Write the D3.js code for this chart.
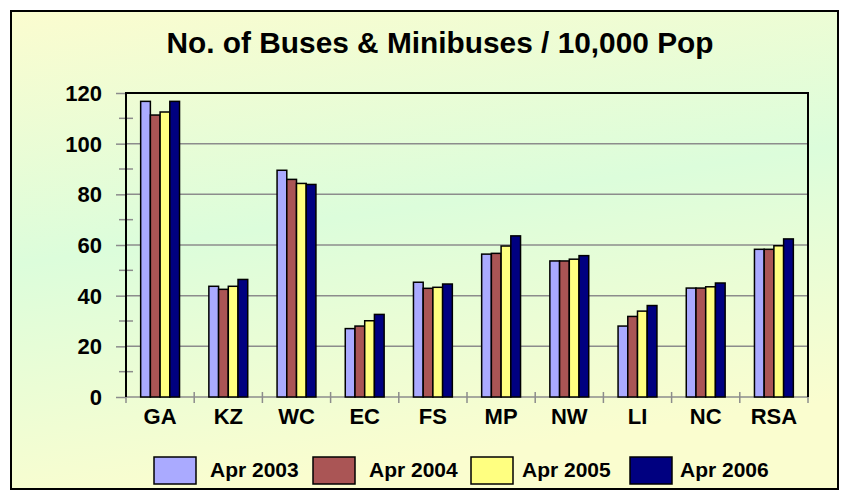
<!DOCTYPE html>
<html>
<head>
<meta charset="utf-8">
<script src="https://cdn.jsdelivr.net/npm/d3@7"></script>
<style>
  body { margin: 0; background: #fff; }
  text { font-family: Arial, "Liberation Sans", sans-serif; font-weight: bold; fill: #000; }
</style>
</head>
<body>
<div class="chart-box"></div>
<script>
// data
let regions = ["GA", "KZ", "WC", "EC", "FS", "MP", "NW", "LI", "NC", "RSA"];
let seriesNames = ["Apr 2003", "Apr 2004", "Apr 2005", "Apr 2006"];
let apr2003 = [116.7, 43.7, 89.5, 27.0, 45.3, 56.4, 53.7, 28.0, 43.0, 58.3];
let apr2004 = [111.3, 42.5, 85.9, 28.0, 42.9, 56.7, 53.7, 31.8, 43.0, 58.3];
let apr2005 = [112.5, 43.7, 84.3, 30.1, 43.3, 59.6, 54.4, 33.9, 43.5, 59.7];
let apr2006 = [116.7, 46.4, 83.9, 32.6, 44.6, 63.6, 55.8, 36.1, 45.0, 62.4];
let yTicks = [0, 20, 40, 60, 80, 100, 120];
let colors = ["#aaaaff", "#aa5555", "#ffff80", "#000080"];

let width = 849, height = 498;
let plotLeft = 126, plotRight = 808, plotTop = 93, plotBottom = 397;

let svg = d3.select(".chart-box")
  .append("svg")
  .attr("width", width)
  .attr("height", height);

// background gradient + frame
let defs = svg.append("defs");
let grad = defs.append("linearGradient")
  .attr("id", "bg")
  .attr("x1", 0).attr("y1", 0).attr("x2", 0.25).attr("y2", 1);
grad.append("stop").attr("offset", "0%").attr("stop-color", "#fbfccf");
grad.append("stop").attr("offset", "50%").attr("stop-color", "#dcfddb");
grad.append("stop").attr("offset", "100%").attr("stop-color", "#fafdcf");

svg.append("rect")
  .attr("x", 11).attr("y", 11)
  .attr("width", 827).attr("height", 478)
  .attr("fill", "url(#bg)")
  .attr("stroke", "#000")
  .attr("stroke-width", 2);

// title
svg.append("text")
  .attr("x", 440)
  .attr("y", 53)
  .attr("text-anchor", "middle")
  .attr("textLength", 547)
  .attr("lengthAdjust", "spacingAndGlyphs")
  .style("font-size", "30px")
  .text("No. of Buses & Minibuses / 10,000 Pop");

let x = d3.scaleBand()
  .domain(regions)
  .range([plotLeft, plotRight])
  .paddingInner(0.43)
  .paddingOuter(0.215);

let x1 = d3.scaleBand()
  .domain(seriesNames)
  .range([0, x.bandwidth()]);

let y = d3.scaleLinear()
  .domain([0, 120])
  .range([plotBottom, plotTop]);

// gridlines
svg.append("g")
  .selectAll("line")
  .data(yTicks.filter(function (d) { return d > 0 && d < 120; }))
  .enter()
  .append("line")
  .attr("x1", plotLeft).attr("x2", plotRight)
  .attr("y1", function (d) { return y(d); })
  .attr("y2", function (d) { return y(d); })
  .attr("stroke", "#8c8c8c")
  .attr("stroke-width", 1.5);

// y axis ticks (major + minor)
let yAxis = d3.axisLeft(y).tickValues(yTicks).tickSize(10).tickFormat("");
svg.append("g")
  .attr("transform", "translate(" + plotLeft + ",0)")
  .call(yAxis)
  .call(function (g) {
    g.select(".domain").remove();
    g.selectAll(".tick line").attr("stroke", "#8c8c8c").attr("stroke-width", 1.5);
  });

svg.append("g")
  .selectAll("line")
  .data([10, 30, 50, 70, 90, 110])
  .enter()
  .append("line")
  .attr("x1", plotLeft - 7).attr("x2", plotLeft + 7)
  .attr("y1", function (d) { return y(d); })
  .attr("y2", function (d) { return y(d); })
  .attr("stroke", "#8c8c8c")
  .attr("stroke-width", 1.5);

// y labels
svg.append("g")
  .selectAll("text")
  .data(yTicks)
  .enter()
  .append("text")
  .attr("x", 102)
  .attr("y", function (d) { return y(d) + 8; })
  .attr("text-anchor", "end")
  .style("font-size", "22px")
  .text(function (d) { return d; });

// x axis line + category ticks
svg.append("line")
  .attr("x1", plotLeft).attr("x2", plotRight)
  .attr("y1", plotBottom).attr("y2", plotBottom)
  .attr("stroke", "#8c8c8c")
  .attr("stroke-width", 1.5);

let step = x.step();
svg.append("g")
  .selectAll("line")
  .data(d3.range(regions.length + 1))
  .enter()
  .append("line")
  .attr("x1", function (i) { return plotLeft + i * step; })
  .attr("x2", function (i) { return plotLeft + i * step; })
  .attr("y1", plotBottom - 5).attr("y2", plotBottom + 6)
  .attr("stroke", "#8c8c8c")
  .attr("stroke-width", 1.5);

// plot frame: black left, top, right
svg.append("path")
  .attr("d", "M" + plotLeft + "," + plotBottom + "V" + plotTop + "H" + plotRight + "V" + plotBottom)
  .attr("fill", "none")
  .attr("stroke", "#000")
  .attr("stroke-width", 2);

// bars
let series = [apr2003, apr2004, apr2005, apr2006];
let groups = svg.append("g")
  .selectAll("g")
  .data(series)
  .enter()
  .append("g")
  .attr("fill", function (d, i) { return colors[i]; });

groups.selectAll("rect")
  .data(function (d, i) {
    return d.map(function (v, j) { return { region: regions[j], name: seriesNames[i], value: v }; });
  })
  .enter()
  .append("rect")
  .attr("x", function (d) { return x(d.region) + x1(d.name); })
  .attr("y", function (d) { return y(d.value); })
  .attr("width", x1.bandwidth())
  .attr("height", function (d) { return plotBottom - y(d.value); })
  .attr("stroke", "#000")
  .attr("stroke-width", 1.5);

// x labels
svg.append("g")
  .selectAll("text")
  .data(regions)
  .enter()
  .append("text")
  .attr("x", function (d) { return x(d) + x.bandwidth() / 2; })
  .attr("y", 424)
  .attr("text-anchor", "middle")
  .style("font-size", "22px")
  .text(function (d) { return d; });

// legend
let legendX = [154, 313, 471, 630];
let textGap = [56, 56, 51, 50];
let legend = svg.append("g")
  .selectAll("g")
  .data(seriesNames)
  .enter()
  .append("g")
  .attr("transform", function (d, i) { return "translate(" + legendX[i] + ",457)"; });

legend.append("rect")
  .attr("width", 42).attr("height", 27)
  .attr("fill", function (d, i) { return colors[i]; })
  .attr("stroke", "#000")
  .attr("stroke-width", 1.5);

legend.append("text")
  .attr("x", function (d, i) { return textGap[i]; })
  .attr("y", 20)
  .style("font-size", "21px")
  .text(function (d) { return d; });
</script>
</body>
</html>
